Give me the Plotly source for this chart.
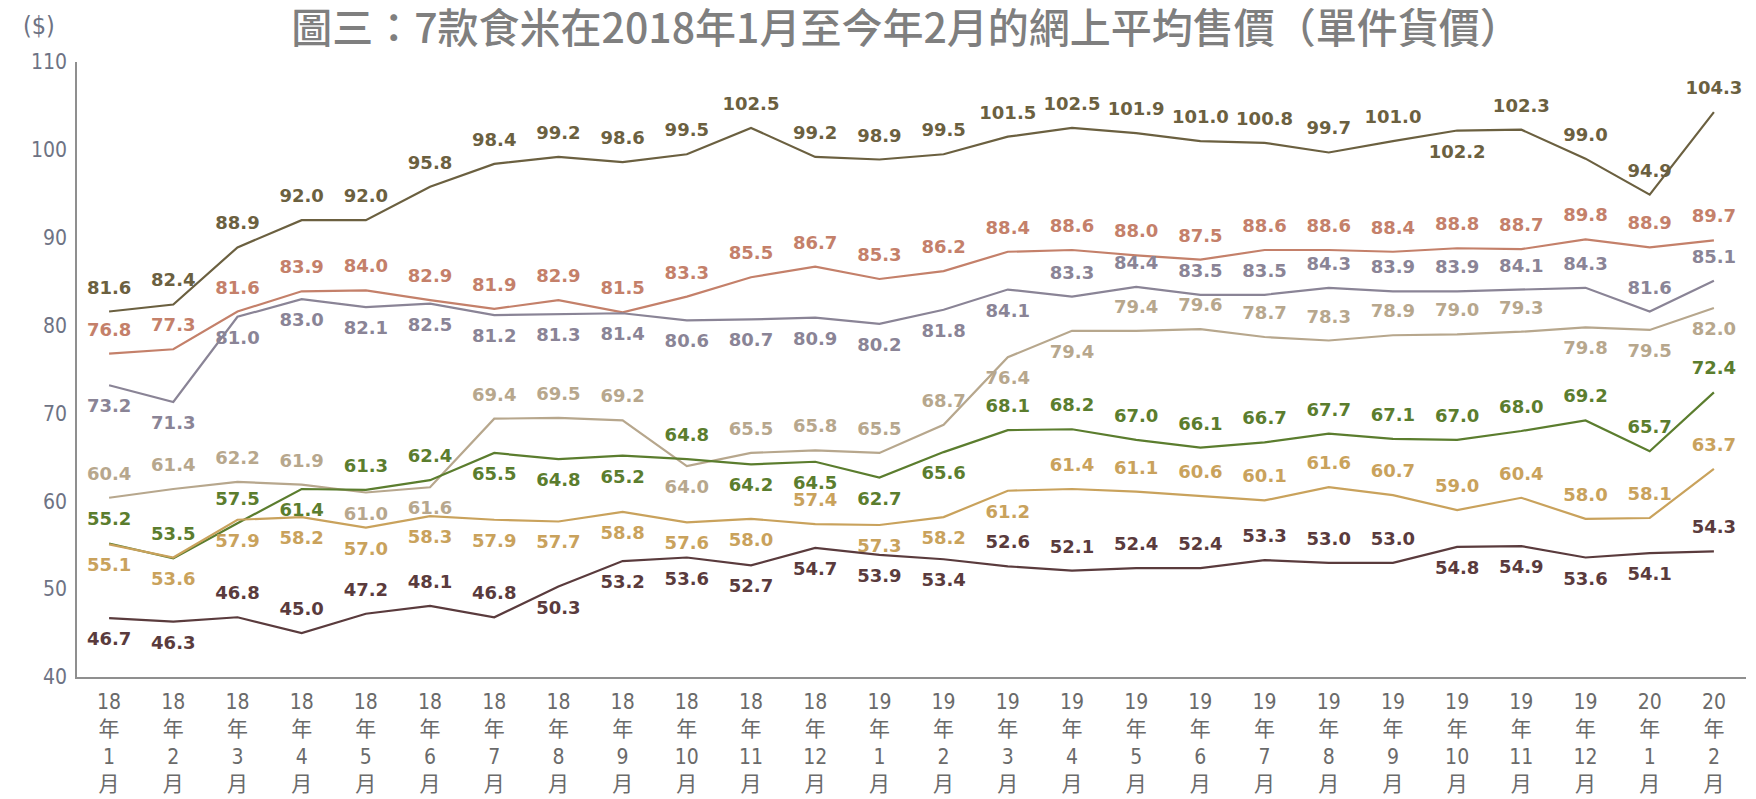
import plotly.graph_objects as go

months = ["18<br>年<br>1<br>月", "18<br>年<br>2<br>月", "18<br>年<br>3<br>月", "18<br>年<br>4<br>月",
          "18<br>年<br>5<br>月", "18<br>年<br>6<br>月", "18<br>年<br>7<br>月", "18<br>年<br>8<br>月",
          "18<br>年<br>9<br>月", "18<br>年<br>10<br>月", "18<br>年<br>11<br>月", "18<br>年<br>12<br>月",
          "19<br>年<br>1<br>月", "19<br>年<br>2<br>月", "19<br>年<br>3<br>月", "19<br>年<br>4<br>月",
          "19<br>年<br>5<br>月", "19<br>年<br>6<br>月", "19<br>年<br>7<br>月", "19<br>年<br>8<br>月",
          "19<br>年<br>9<br>月", "19<br>年<br>10<br>月", "19<br>年<br>11<br>月", "19<br>年<br>12<br>月",
          "20<br>年<br>1<br>月", "20<br>年<br>2<br>月"]

s1 = [81.6, 82.4, 88.9, 92.0, 92.0, 95.8, 98.4, 99.2, 98.6, 99.5, 102.5, 99.2, 98.9, 99.5,
      101.5, 102.5, 101.9, 101.0, 100.8, 99.7, 101.0, 102.2, 102.3, 99.0, 94.9, 104.3]
s2 = [76.8, 77.3, 81.6, 83.9, 84.0, 82.9, 81.9, 82.9, 81.5, 83.3, 85.5, 86.7, 85.3, 86.2,
      88.4, 88.6, 88.0, 87.5, 88.6, 88.6, 88.4, 88.8, 88.7, 89.8, 88.9, 89.7]
s3 = [73.2, 71.3, 81.0, 83.0, 82.1, 82.5, 81.2, 81.3, 81.4, 80.6, 80.7, 80.9, 80.2, 81.8,
      84.1, 83.3, 84.4, 83.5, 83.5, 84.3, 83.9, 83.9, 84.1, 84.3, 81.6, 85.1]
s4 = [60.4, 61.4, 62.2, 61.9, 61.0, 61.6, 69.4, 69.5, 69.2, 64.0, 65.5, 65.8, 65.5, 68.7,
      76.4, 79.4, 79.4, 79.6, 78.7, 78.3, 78.9, 79.0, 79.3, 79.8, 79.5, 82.0]
s5 = [55.2, 53.5, 57.5, 61.4, 61.3, 62.4, 65.5, 64.8, 65.2, 64.8, 64.2, 64.5, 62.7, 65.6,
      68.1, 68.2, 67.0, 66.1, 66.7, 67.7, 67.1, 67.0, 68.0, 69.2, 65.7, 72.4]
s6 = [55.1, 53.6, 57.9, 58.2, 57.0, 58.3, 57.9, 57.7, 58.8, 57.6, 58.0, 57.4, 57.3, 58.2,
      61.2, 61.4, 61.1, 60.6, 60.1, 61.6, 60.7, 59.0, 60.4, 58.0, 58.1, 63.7]
s7 = [46.7, 46.3, 46.8, 45.0, 47.2, 48.1, 46.8, 50.3, 53.2, 53.6, 52.7, 54.7, 53.9, 53.4,
      52.6, 52.1, 52.4, 52.4, 53.3, 53.0, 53.0, 54.8, 54.9, 53.6, 54.1, 54.3]

# label placement: T = above the point, B = below
p1 = "TTTTTTTTTTTTTTTTTTTTTBTTTT"
p2 = "TTTTTTTTTTTTTTTTTTTTTTTTTT"
p3 = "BBBBBBBBBBBBBBBTTTTTTTTTTT"
p4 = "TTTTBBTTTBTTTTBBTTTTTTTBBB"
p5 = "TTTBTTBBBTBBBBTTTTTTTTTTTT"
p6 = "BBBBBBBBBBBTBBBTTTTTTTTTTT"
p7 = "BBTTTTTBBBBBBBTTTTTTTBBBBT"

series = [
    (s1, p1, "#6b6040"),
    (s2, p2, "#c4806a"),
    (s3, p3, "#8a8496"),
    (s4, p4, "#b7a78d"),
    (s5, p5, "#5b7d2e"),
    (s6, p6, "#c9a25c"),
    (s7, p7, "#5a3b3d"),
]

# the page body has an 8px margin, so the figure is sized to fit the window
W, H = 1748, 791

fig = go.Figure()
for vals, pos, col in series:
    fig.add_trace(go.Scatter(
        x=months, y=vals,
        mode="lines+markers+text",
        line=dict(color=col, width=2.2),
        marker=dict(size=20, color="rgba(0,0,0,0)"),
        text=[f"{v:.1f}" for v in vals],
        textposition=["top center" if c == "T" else "bottom center" for c in pos],
        textfont=dict(family="DejaVu Sans", size=18, color=col, weight="bold"),
        cliponaxis=False,
        showlegend=False,
        hoverinfo="skip",
    ))

fig.update_layout(
    width=W, height=H,
    paper_bgcolor="white", plot_bgcolor="white",
    margin=dict(l=69, r=10, t=54, b=122, autoexpand=False),
    title=dict(
        text="圖三：7款食米在2018年1月至今年2月的網上平均售價（單件貨價）",
        font=dict(family="Noto Sans CJK TC", size=41, color="#7f7f7f", weight=500),
        x=898 / W, xanchor="center", xref="container",
        y=1 - 21 / H, yanchor="middle", yref="container",
        automargin=False,
    ),
    xaxis=dict(
        type="category", range=[-0.5, 25.5], automargin=False,
        showline=True, linecolor="#8f8f8f", linewidth=1.5,
        showgrid=False, zeroline=False,
        ticks="outside", ticklen=5, tickcolor="rgba(0,0,0,0)",
        tickfont=dict(family="Liberation Sans Narrow, DejaVu Sans Condensed, Liberation Sans, Noto Sans CJK TC",
                      size=21, color="#6a6a6a"),
        tickangle=0,
    ),
    yaxis=dict(
        range=[40, 110], tickvals=[40, 50, 60, 70, 80, 90, 100, 110], automargin=False,
        showline=True, linecolor="#8f8f8f", linewidth=1.5,
        showgrid=False, zeroline=False,
        ticks="outside", ticklen=4, tickcolor="rgba(0,0,0,0)",
        tickfont=dict(family="Liberation Sans Narrow, DejaVu Sans Condensed, Liberation Sans",
                      size=21, color="#6e7384"),
    ),
    annotations=[dict(
        text="($)", xref="paper", yref="paper",
        x=(31 - 69) / (W - 79), y=1 + (54 - 17) / (H - 176),
        xanchor="center", yanchor="middle", showarrow=False,
        font=dict(family="Liberation Sans Narrow, DejaVu Sans Condensed, Liberation Sans",
                  size=25, color="#6e7384"),
    )],
)

fig.write_html("out.html")
